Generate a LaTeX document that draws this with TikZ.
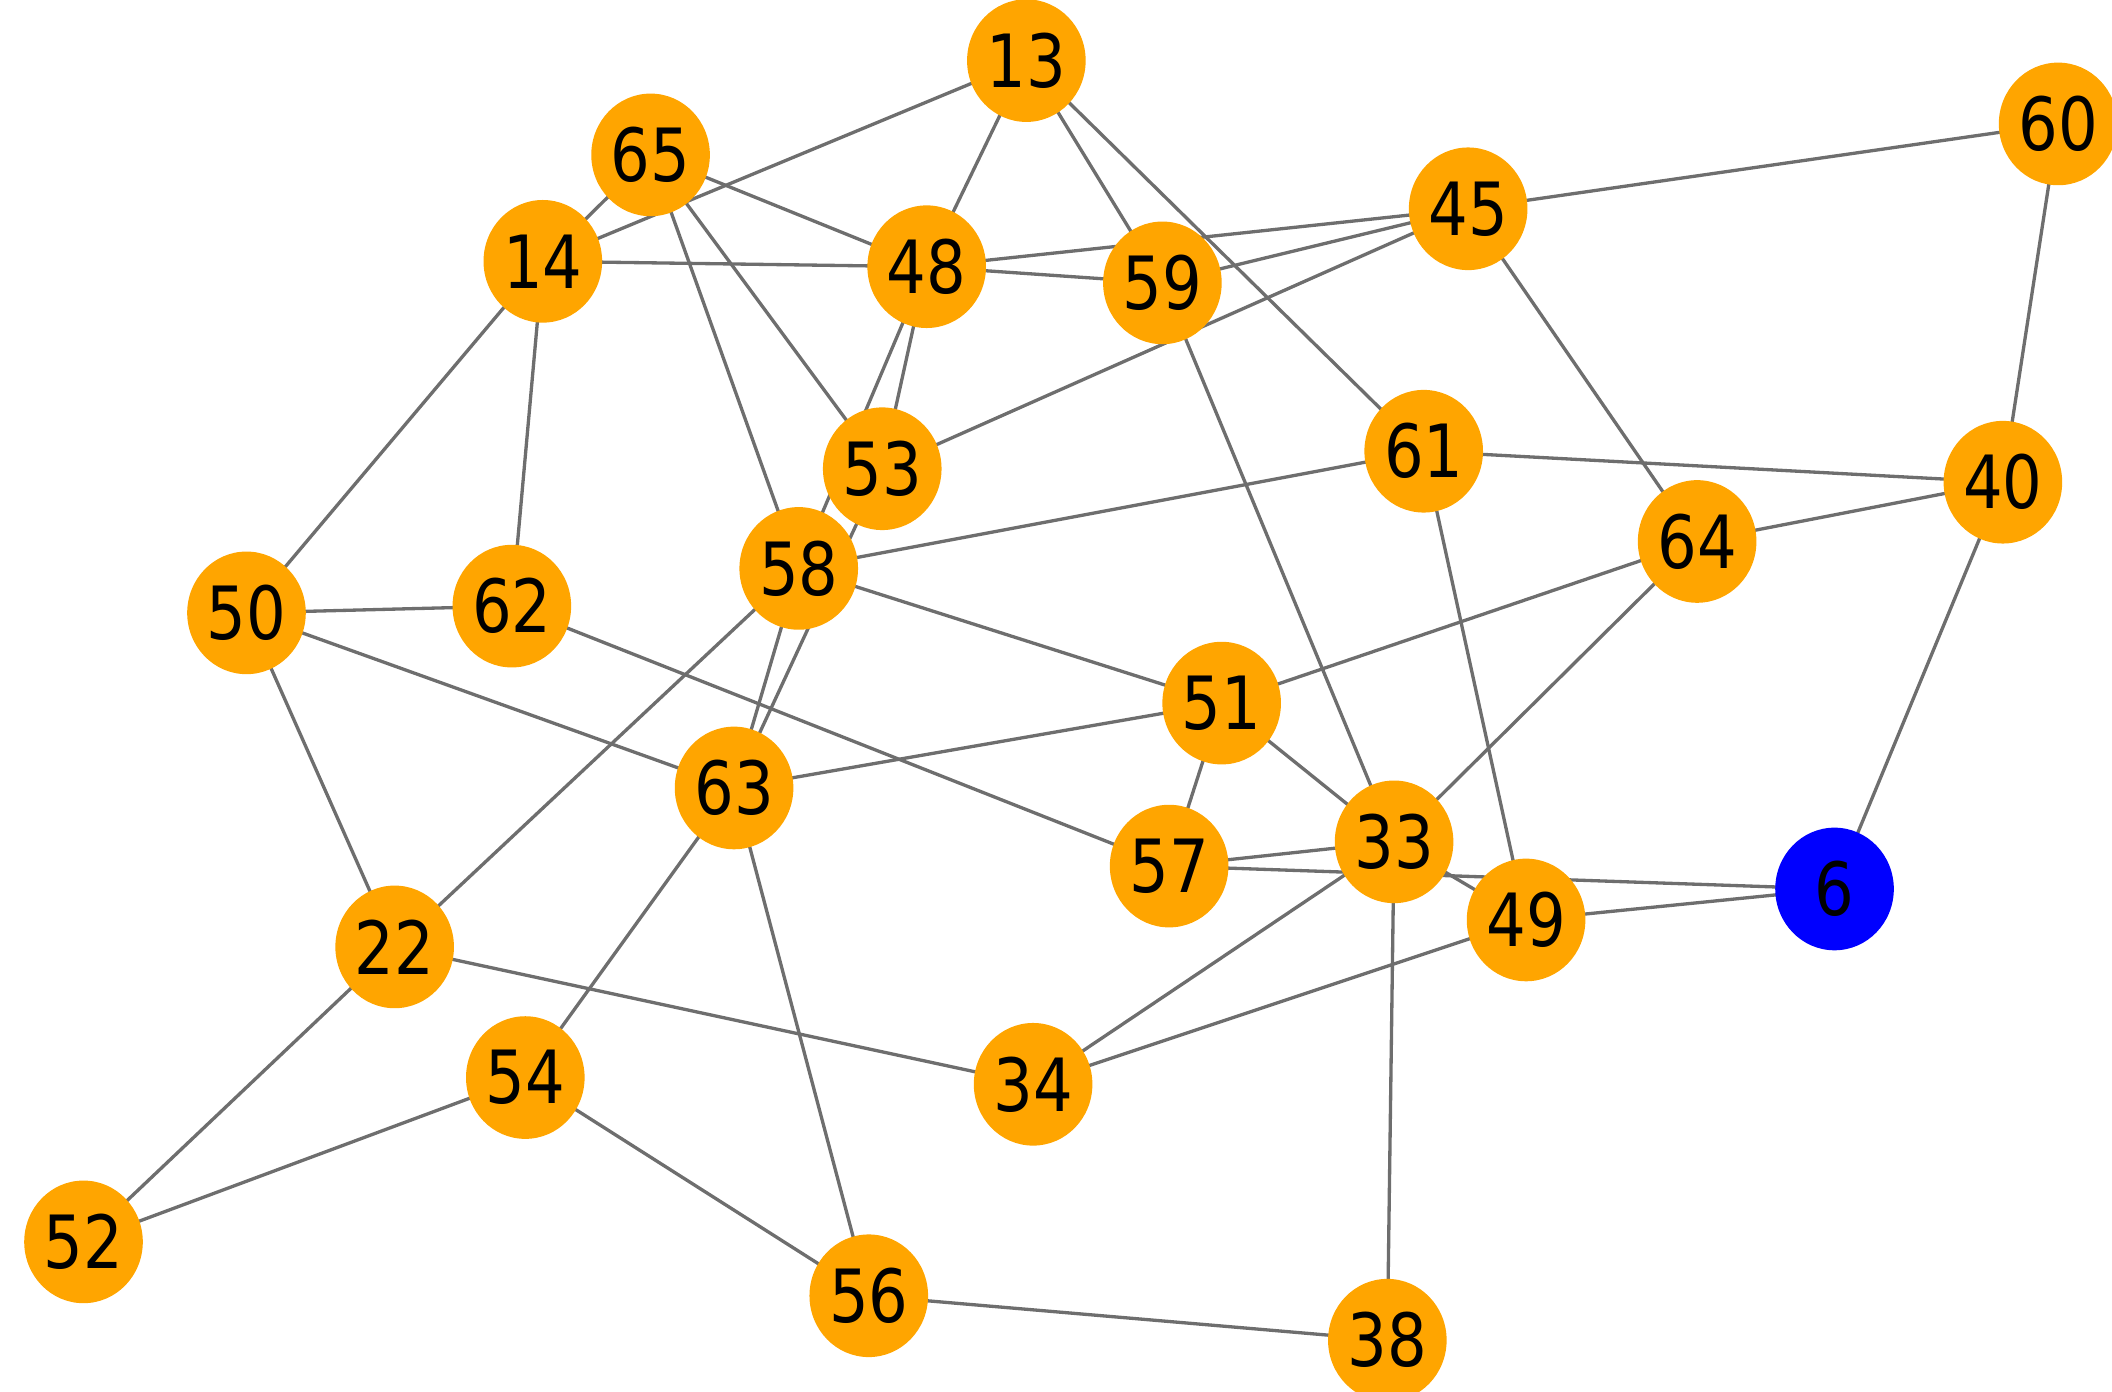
\documentclass[tikz,border=0pt]{standalone}
\usepackage{fontspec}
\setmainfont{DejaVu Sans}
\usetikzlibrary{shapes.geometric,backgrounds}

\tikzset{
  vtx/.style={ellipse,fill={rgb,255:red,255;green,165;blue,0},inner sep=0pt,
    minimum width=0.88cm,minimum height=0.91cm,font=\fontsize{15.5}{15.5}\selectfont},
  hub/.style={vtx,fill={rgb,255:red,0;green,0;blue,255}},
  link/.style={draw={rgb,255:red,110;green,110;blue,110},line width=0.7pt}
}
\newcommand{\vlabel}[1]{\scalebox{0.85}[1]{#1}}

\begin{document}
\begin{tikzpicture}[x=0.01cm,y=-0.01cm]
\useasboundingbox (0,0) rectangle (1568,1033);
\clip (0,0) rectangle (1568,1033);

% vertices
\node [vtx] (n13) at (762,45) {\vlabel{13}};
\node [vtx] (n60) at (1528,92) {\vlabel{60}};
\node [vtx] (n65) at (483,115) {\vlabel{65}};
\node [vtx] (n45) at (1090,155) {\vlabel{45}};
\node [vtx] (n14) at (403,194) {\vlabel{14}};
\node [vtx] (n48) at (688,198) {\vlabel{48}};
\node [vtx] (n59) at (863,210) {\vlabel{59}};
\node [vtx] (n53) at (655,348) {\vlabel{53}};
\node [vtx] (n61) at (1057,335) {\vlabel{61}};
\node [vtx] (n40) at (1487,358) {\vlabel{40}};
\node [vtx] (n64) at (1260,402) {\vlabel{64}};
\node [vtx] (n58) at (593,422) {\vlabel{58}};
\node [vtx] (n50) at (183,455) {\vlabel{50}};
\node [vtx] (n62) at (380,450) {\vlabel{62}};
\node [vtx] (n51) at (907,522) {\vlabel{51}};
\node [vtx] (n63) at (545,585) {\vlabel{63}};
\node [vtx] (n57) at (868,643) {\vlabel{57}};
\node [vtx] (n33) at (1035,625) {\vlabel{33}};
\node [hub] (n6) at (1362,660) {\vlabel{6}};
\node [vtx] (n49) at (1133,683) {\vlabel{49}};
\node [vtx] (n22) at (293,703) {\vlabel{22}};
\node [vtx] (n54) at (390,800) {\vlabel{54}};
\node [vtx] (n34) at (767,805) {\vlabel{34}};
\node [vtx] (n52) at (62,922) {\vlabel{52}};
\node [vtx] (n56) at (645,962) {\vlabel{56}};
\node [vtx] (n38) at (1030,995) {\vlabel{38}};

% edges
\begin{pgfonlayer}{background}
\draw [link] (n13.center) -- (n14.center);
\draw [link] (n13.center) -- (n48.center);
\draw [link] (n13.center) -- (n59.center);
\draw [link] (n13.center) -- (n61.center);
\draw [link] (n65.center) -- (n14.center);
\draw [link] (n65.center) -- (n48.center);
\draw [link] (n65.center) -- (n53.center);
\draw [link] (n65.center) -- (n58.center);
\draw [link] (n14.center) -- (n48.center);
\draw [link] (n14.center) -- (n50.center);
\draw [link] (n14.center) -- (n62.center);
\draw [link] (n48.center) -- (n59.center);
\draw [link] (n48.center) -- (n45.center);
\draw [link] (n48.center) -- (n53.center);
\draw [link] (n48.center) -- (n58.center);
\draw [link] (n59.center) -- (n45.center);
\draw [link] (n59.center) -- (n33.center);
\draw [link] (n45.center) -- (n53.center);
\draw [link] (n45.center) -- (n60.center);
\draw [link] (n45.center) -- (n64.center);
\draw [link] (n60.center) -- (n40.center);
\draw [link] (n40.center) -- (n61.center);
\draw [link] (n40.center) -- (n64.center);
\draw [link] (n40.center) -- (n6.center);
\draw [link] (n61.center) -- (n58.center);
\draw [link] (n61.center) -- (n49.center);
\draw [link] (n64.center) -- (n51.center);
\draw [link] (n64.center) -- (n33.center);
\draw [link] (n58.center) -- (n51.center);
\draw [link] (n58.center) -- (n22.center);
\draw [link] (n58.center) -- (n63.center);
\draw [link] (n53.center) -- (n63.center);
\draw [link] (n50.center) -- (n62.center);
\draw [link] (n50.center) -- (n63.center);
\draw [link] (n50.center) -- (n22.center);
\draw [link] (n62.center) -- (n57.center);
\draw [link] (n51.center) -- (n63.center);
\draw [link] (n51.center) -- (n57.center);
\draw [link] (n51.center) -- (n33.center);
\draw [link] (n57.center) -- (n33.center);
\draw [link] (n57.center) -- (n6.center);
\draw [link] (n33.center) -- (n49.center);
\draw [link] (n33.center) -- (n34.center);
\draw [link] (n33.center) -- (n38.center);
\draw [link] (n49.center) -- (n6.center);
\draw [link] (n49.center) -- (n34.center);
\draw [link] (n22.center) -- (n52.center);
\draw [link] (n22.center) -- (n34.center);
\draw [link] (n63.center) -- (n54.center);
\draw [link] (n63.center) -- (n56.center);
\draw [link] (n54.center) -- (n52.center);
\draw [link] (n54.center) -- (n56.center);
\draw [link] (n56.center) -- (n38.center);
\end{pgfonlayer}

\end{tikzpicture}
\end{document}
